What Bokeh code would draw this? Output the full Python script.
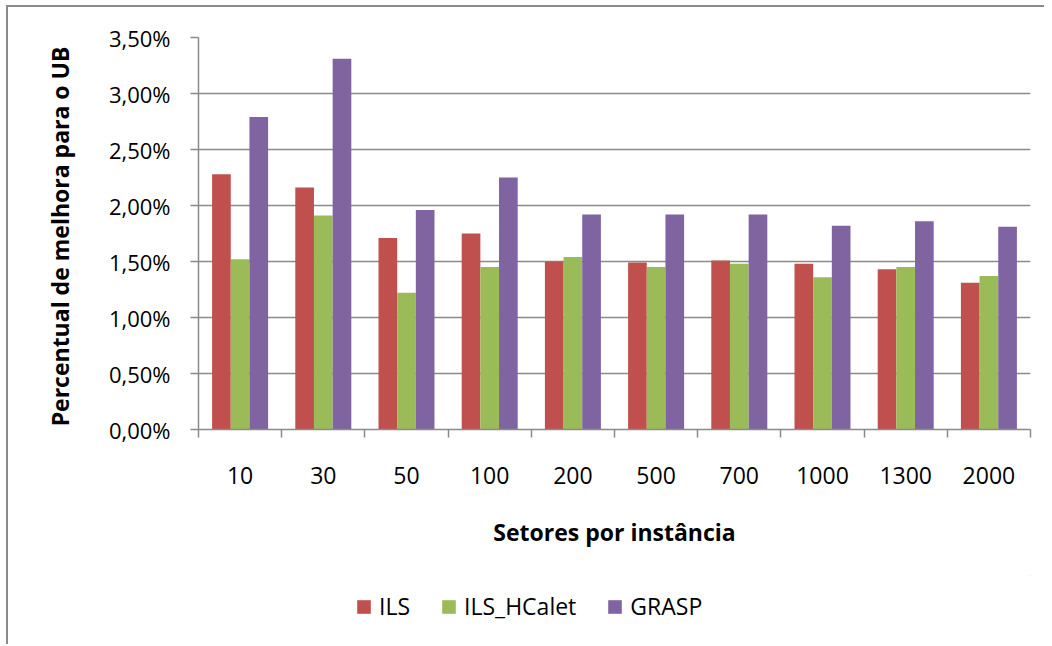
from bokeh.plotting import figure
from bokeh.layouts import column
from bokeh.models import ColumnDataSource, FixedTicker, Legend, LegendItem, Range1d
from bokeh.transform import dodge
from bokeh.embed import file_html
from bokeh.resources import INLINE

categories = ["10", "30", "50", "100", "200", "500", "700", "1000", "1300", "2000"]
ils = [2.28, 2.16, 1.71, 1.75, 1.50, 1.49, 1.51, 1.48, 1.43, 1.31]
ils_hcalet = [1.52, 1.91, 1.22, 1.45, 1.54, 1.45, 1.48, 1.36, 1.45, 1.37]
grasp = [2.79, 3.31, 1.96, 2.25, 1.92, 1.92, 1.92, 1.82, 1.86, 1.81]
y_ticks = [0, 0.5, 1.0, 1.5, 2.0, 2.5, 3.0, 3.5]
y_tick_labels = ["0,00%", "0,50%", "1,00%", "1,50%", "2,00%", "2,50%", "3,00%", "3,50%"]
series_names = ["ILS", "ILS_HCalet", "GRASP"]
colors = ["#C0504D", "#9BBB59", "#8064A2"]

FONT = "Open Sans"
GRID = "#8a8a8a"
LINE = "linear-gradient(#8a8a8a,#8a8a8a)"

x_center = [i + 0.5 for i in range(len(categories))]
source = ColumnDataSource(dict(x=x_center, ils=ils, ils_hcalet=ils_hcalet, grasp=grasp))

p = figure(width=1044, height=575, output_backend="svg", toolbar_location=None,
           x_range=Range1d(0, len(categories)), y_range=Range1d(0, 3.5),
           min_border_left=198, min_border_right=14, min_border_top=37, min_border_bottom=146)
p.styles = {
    "background-color": "white",
    "background-image": f"{LINE}, {LINE}",
    "background-position": "6px 5px, 6px 5px",
    "background-size": "2px 100%, 100% 2px",
    "background-repeat": "no-repeat",
}
p.outline_line_color = None
p.background_fill_color = "white"
p.border_fill_color = None

bw = 0.2244
for col, off, c in zip(["ils", "ils_hcalet", "grasp"], [-bw, 0, bw], colors):
    p.vbar(x=dodge("x", off, range=p.x_range), top=col, width=bw, bottom=0,
           source=source, fill_color=c, line_color=None)

xt = FixedTicker(ticks=x_center, minor_ticks=list(range(len(categories) + 1)))
p.xaxis.ticker = xt
p.xaxis.major_label_overrides = {x: c for x, c in zip(x_center, categories)}
p.xaxis.major_tick_line_color = None
p.xaxis.major_tick_out = 0
p.xaxis.major_tick_in = 0
p.xaxis.minor_tick_line_color = GRID
p.xaxis.minor_tick_line_width = 1.5
p.xaxis.minor_tick_out = 8
p.xaxis.minor_tick_in = 0
p.xaxis.axis_line_color = GRID
p.xaxis.axis_line_width = 1.5
p.xaxis.major_label_text_font = FONT
p.xaxis.major_label_text_font_size = "23px"
p.xaxis.major_label_text_color = "black"
p.xaxis.major_label_standoff = 29
p.xaxis.axis_label = "Setores por instância"
p.xaxis.axis_label_text_font = FONT
p.xaxis.axis_label_text_font_size = "23px"
p.xaxis.axis_label_text_font_style = "bold"
p.xaxis.axis_label_text_color = "black"
p.xaxis.axis_label_standoff = 29

p.yaxis.ticker = FixedTicker(ticks=y_ticks, minor_ticks=[])
p.yaxis.major_label_overrides = {t: l for t, l in zip(y_ticks, y_tick_labels)}
p.yaxis.major_tick_line_color = GRID
p.yaxis.major_tick_line_width = 1.5
p.yaxis.major_tick_out = 8
p.yaxis.major_tick_in = 0
p.yaxis.axis_line_color = GRID
p.yaxis.axis_line_width = 1.5
p.yaxis.major_label_text_font = FONT
p.yaxis.major_label_text_font_size = "22px"
p.yaxis.major_label_text_color = "black"
p.yaxis.major_label_standoff = 20
p.yaxis.axis_label = "Percentual  de melhora para o UB"
p.yaxis.axis_label_text_font = FONT
p.yaxis.axis_label_text_font_size = "23px"
p.yaxis.axis_label_text_font_style = "bold"
p.yaxis.axis_label_text_color = "black"
p.yaxis.axis_label_standoff = 30

p.xgrid.visible = False
p.ygrid.ticker = FixedTicker(ticks=y_ticks)
p.ygrid.grid_line_color = GRID
p.ygrid.grid_line_width = 1.5

# legend strip below the chart
q = figure(width=1044, height=69, output_backend="svg", toolbar_location=None,
           x_range=Range1d(0, 1), y_range=Range1d(0, 1),
           x_axis_location=None, y_axis_location=None, min_border=0)
q.styles = {
    "background-color": "white",
    "background-image": LINE,
    "background-position": "6px 0px",
    "background-size": "2px 100%",
    "background-repeat": "no-repeat",
}
q.grid.visible = False
q.outline_line_color = None
q.background_fill_color = None
q.border_fill_color = None
leg_renderers = [q.vbar(x=[5], top=[5], bottom=[4], width=0.1, fill_color=c, line_color=None)
                 for c in colors]

legend = Legend(items=[LegendItem(label=n, renderers=[r]) for n, r in zip(series_names, leg_renderers)],
                orientation="horizontal", location=(157, 22))
legend.glyph_width = 17
legend.glyph_height = 17
legend.label_standoff = 7
legend.spacing = 30
legend.padding = 5
legend.margin = 0
legend.border_line_color = None
legend.background_fill_alpha = 0
legend.label_text_font = FONT
legend.label_text_font_size = "23px"
legend.label_text_color = "black"
q.add_layout(legend, "center")

layout = column(p, q, spacing=0)
open("out.html", "w").write(file_html(layout, INLINE))
